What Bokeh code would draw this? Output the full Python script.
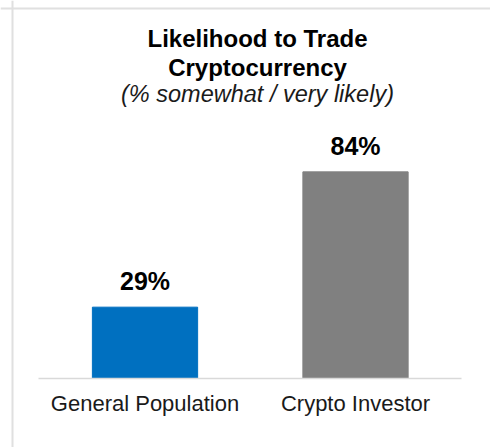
from bokeh.plotting import figure
from bokeh.models import Range1d, Span, Label, ColumnDataSource
from bokeh.core.properties import value
from bokeh.embed import file_html
from bokeh.resources import INLINE

categories = ["General Population", "Crypto Investor"]
values = [29, 84]
value_labels = ["29%", "84%"]
colors = ["#0070C0", "#808080"]
title_lines = ["Likelihood to Trade", "Cryptocurrency"]
subtitle = "(% somewhat / very likely)"

W, H = 490, 447
# pixel layout helpers
X_SPACING = 210.5      # px between category centres
X_FIRST = 144.5        # px of first category centre
BASELINE = 378.0       # px of zero line
K = 2.46               # px per percentage point

def px_x(px):
    return (px - X_FIRST) / X_SPACING

def px_y(py):
    return (BASELINE - py) / K

FONT = "Liberation Sans"

p = figure(width=W, height=H, output_backend="svg", toolbar_location=None,
           x_axis_type=None, y_axis_type=None,
           x_range=Range1d(px_x(0), px_x(W)), y_range=Range1d(px_y(H), px_y(0)),
           min_border=0, min_border_left=0, min_border_right=0,
           min_border_top=0, min_border_bottom=0)
p.outline_line_color = None
p.background_fill_color = "white"
p.border_fill_color = "white"
p.xgrid.visible = False
p.ygrid.visible = False

xs = list(range(len(categories)))
src = ColumnDataSource(dict(x=xs, top=values, color=colors, lab=value_labels, cat=categories))

p.vbar(x="x", top="top", bottom=0, width=0.5, fill_color="color", line_color="color", source=src)

# zero line
p.segment(x0=[px_x(38)], y0=[0], x1=[px_x(461)], y1=[0], line_color="#d9d9d9", line_width=1.5)

# outer frame (top & left edges)
p.add_layout(Span(location=px_x(12), dimension="height", line_color="#e0e0e0", line_width=2))
p.add_layout(Span(location=px_y(8), dimension="width", line_color="#e0e0e0", line_width=2))

# value labels
p.text(x="x", y="top", text="lab", source=src, text_align="center", text_baseline="alphabetic",
       y_offset=-26, text_font=value(FONT), text_font_style="bold", text_font_size="25px",
       text_color="#000000")

# category labels
p.text(x="x", y=0, text="cat", source=src, text_align="center", text_baseline="alphabetic",
       y_offset=25, text_font=value(FONT), text_font_size="22px", text_color="#1a1a1a")

# title
cx = px_x(257)
for line, base in zip(title_lines, [37.5, 66.5]):
    p.add_layout(Label(x=cx, y=px_y(base), text=line, text_align="center",
                       text_baseline="alphabetic", text_font=FONT, text_font_style="bold",
                       text_font_size="24px", text_color="#000000"))
p.add_layout(Label(x=cx, y=px_y(93.5), text=subtitle, text_align="center",
                   text_baseline="alphabetic", text_font=FONT, text_font_style="italic",
                   text_font_size="23.5px", text_color="#1a1a1a"))

open("out.html", "w").write(file_html(p, INLINE))
